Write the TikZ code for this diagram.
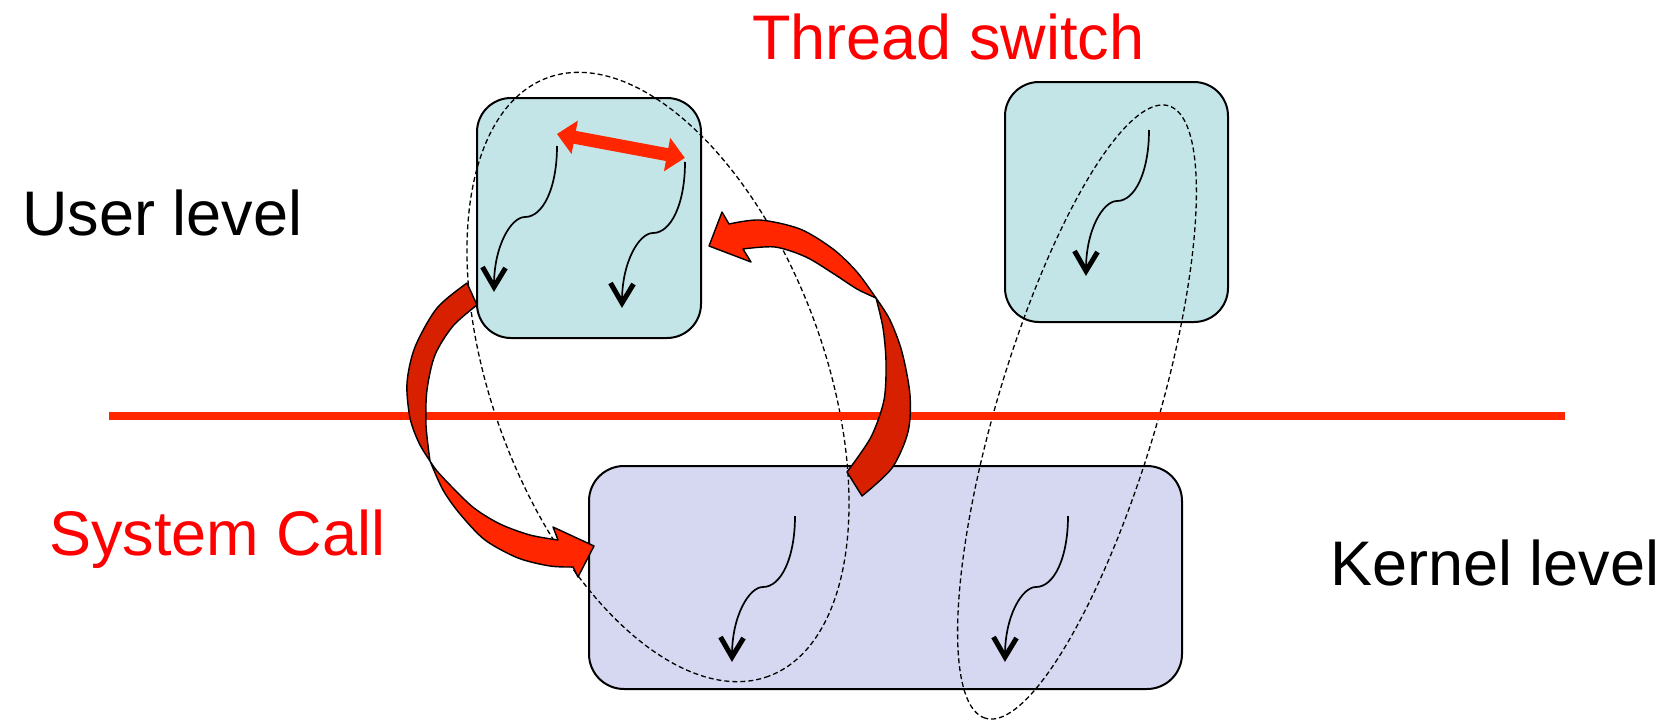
\documentclass[tikz,border=0pt]{standalone}
\usepackage{fontspec}
\setmainfont{Liberation Sans}
\definecolor{userfill}{RGB}{196,229,232}
\definecolor{kernfill}{RGB}{214,216,241}
\definecolor{arrbright}{RGB}{255,38,0}
\definecolor{arrdark}{RGB}{214,32,0}
\definecolor{tred}{RGB}{255,0,0}
\definecolor{linered}{RGB}{255,38,0}
\newcommand\mythread[1]{%
  \begin{scope}[shift={#1}]
    \draw[thr] (0,0) .. controls (0,42) and (-14,71) .. (-32,71)
                     .. controls (-46,71) and (-63,100) .. (-63,139);
    \draw[vhead] (-74.5,121) -- (-63,141) -- (-51.5,122);
  \end{scope}}
\begin{document}
\begin{tikzpicture}[x=1pt,y=-1pt,
  ubox/.style={draw=black, line width=2pt, fill=userfill, rounded corners=34pt, inner sep=0pt},
  kbox/.style={draw=black, line width=2pt, fill=kernfill, rounded corners=35pt, inner sep=0pt},
  thr/.style={line width=1.7pt},
  vhead/.style={line width=5pt, line join=miter},
  ell/.style={line width=1.3pt, dash pattern=on 5pt off 3pt},
  lbl/.style={font=\fontsize{63}{70}\selectfont, inner sep=0pt, anchor=base west},
  blockB/.style={fill=arrbright, draw=black, line width=1.4pt, line join=round},
  blockD/.style={fill=arrdark, draw=black, line width=1.4pt, line join=round},
  redline/.style={draw=linered, line width=7.5pt}]

\useasboundingbox (0,0) rectangle (1674,720);

% boxes
\node[ubox, minimum width=224pt, minimum height=240pt] (u1) at (589,218) {};
\node[ubox, minimum width=223pt, minimum height=240pt] (u2) at (1116.5,202) {};
\node[kbox, minimum width=593pt, minimum height=223pt] (k) at (885.5,577.5) {};

% threads
\mythread{(557,146)}
\mythread{(685,162)}
\mythread{(1149,130)}
\mythread{(795,516)}
\mythread{(1068,516)}

% dashed ellipses
\draw[ell] plot[domain=0:360, samples=240]
  ({658 + 110.7*cos(\x) - 155.7*sin(\x)}, {377 + 299.2*cos(\x) + 57.6*sin(\x)}) -- cycle;
\draw[ell] plot[domain=0:360, samples=240]
  ({1077 - 91.6*cos(\x) - 76.6*sin(\x)}, {412 + 306.2*cos(\x) - 22.9*sin(\x)}) -- cycle;

% separator line
\coordinate (L1) at (109,416);
\coordinate (L2) at (1565,416);
\draw[redline] (L1) -- (L2);

% system call arrow (dark back part, bright front part)
\filldraw[blockD] plot[smooth] coordinates {(430,461) (419,443) (410,418) (407,383) (415,347) (437,308) (467,283)}
  -- (477,305)
  -- plot[smooth] coordinates {(477,305) (453,326) (435,355) (427,390) (426,425) (430,461)} -- cycle;
\filldraw[blockB] plot[smooth] coordinates {(430,461) (443,490) (460,514) (485,540) (518,558) (550,566) (573,567)}
  -- (578,577) -- (594,546) -- (553,527) -- (558,540)
  -- plot[smooth] coordinates {(558,540) (530,535) (500,524) (474,508) (452,487) (437,471) (430,461)} -- cycle;

% return arrow
\filldraw[blockD] plot[smooth] coordinates {(876,298) (890,320) (902,352) (910,395) (908,432) (892,468) (862,496)}
  -- (847,472)
  -- plot[smooth] coordinates {(847,472) (871,437) (884,400) (886,362) (883,328) (876,298)} -- cycle;
\filldraw[blockB] plot[smooth] coordinates {(876,298) (857,272) (833,249) (800,229) (760,220) (729,224)}
  -- (722,212) -- (709,246) -- (751,262) -- (743,249)
  -- plot[smooth] coordinates {(743,249) (775,247) (806,257) (834,274) (857,289) (876,298)} -- cycle;

% thread switch double arrow
\begin{scope}[shift={(557,134)}, rotate=-10.6]
  \fill[arrbright] (0,0) -- (18,-17) -- (18,-6.5) -- (112,-6.5) -- (112,-17) -- (130,0)
    -- (112,17) -- (112,6.5) -- (18,6.5) -- (18,17) -- cycle;
\end{scope}

% labels
\node[lbl, text=tred] (ts) at (752,59) {Thread switch};
\node[lbl] (ul) at (22,235) {User level};
\node[lbl, text=tred] (sc) at (49,555) {System Call};
\node[lbl] (kl) at (1330,585) {Kernel level};
\end{tikzpicture}
\end{document}
